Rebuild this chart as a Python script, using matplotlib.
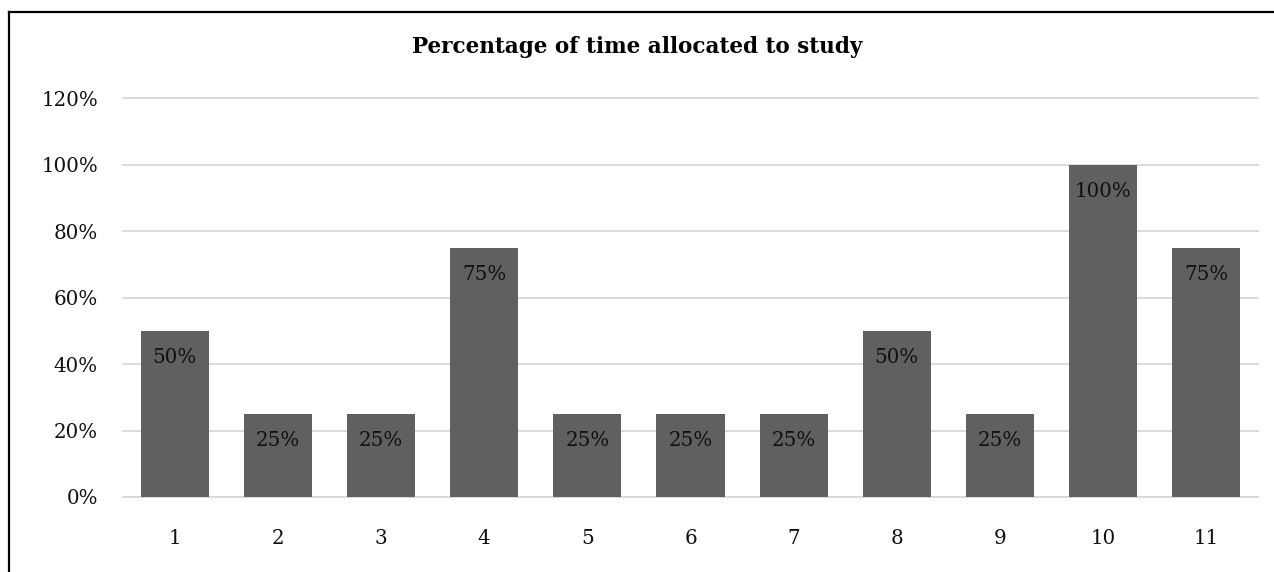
import matplotlib.pyplot as plt
import numpy as np
from matplotlib.lines import Line2D

categories = ['1', '2', '3', '4', '5', '6', '7', '8', '9', '10', '11']
values = [0.50, 0.25, 0.25, 0.75, 0.25, 0.25, 0.25, 0.50, 0.25, 1.00, 0.75]
yticks = [0, 0.2, 0.4, 0.6, 0.8, 1.0, 1.2]
ytick_labels = ['0%', '20%', '40%', '60%', '80%', '100%', '120%']
title = 'Percentage of time allocated to study'

plt.rcParams['font.family'] = ['DejaVu Serif']

fig = plt.figure(figsize=(12.74, 5.72), dpi=100)
ax = fig.add_axes([123/1274, 1-497/572, (1258-123)/1274, (497-98.5)/572])

x = np.arange(len(categories))
bars = ax.bar(x, values, width=0.66, color='#606060', zorder=3)
for xi, v in zip(x, values):
    ax.text(xi, v - 0.08, f'{int(round(v*100))}%', ha='center', va='center',
            fontsize=14.3, color='#111111', zorder=4)

ax.set_xlim(-0.5, len(categories) - 0.5)
ax.set_ylim(0, 1.2)
ax.set_yticks(yticks)
ax.set_yticklabels(ytick_labels)
ax.set_xticks(x)
ax.set_xticklabels(categories)
ax.tick_params(axis='both', length=0, labelsize=14.3, colors='#111111')
ax.tick_params(axis='x', pad=23)
ax.tick_params(axis='y', pad=18)
ax.grid(axis='y', color='#d9d9d9', lw=1.3, zorder=0)
for gl in ax.get_ygridlines():
    gl.set_clip_on(False)
for s in ['top', 'right', 'left']:
    ax.spines[s].set_visible(False)
ax.spines['bottom'].set_color('#d9d9d9')
ax.spines['bottom'].set_linewidth(1.3)

fig.text(637/1274, 1-47/572, title, ha='center', va='center',
         fontsize=15.5, fontweight='bold', color='black')

# border of the chart box
fig.add_artist(Line2D([9/1274, 9/1274], [0, 1-12/572], color='black', lw=1.6))
fig.add_artist(Line2D([9/1274, 1], [1-12/572, 1-12/572], color='black', lw=1.6))

plt.savefig('out.png', dpi=100)
